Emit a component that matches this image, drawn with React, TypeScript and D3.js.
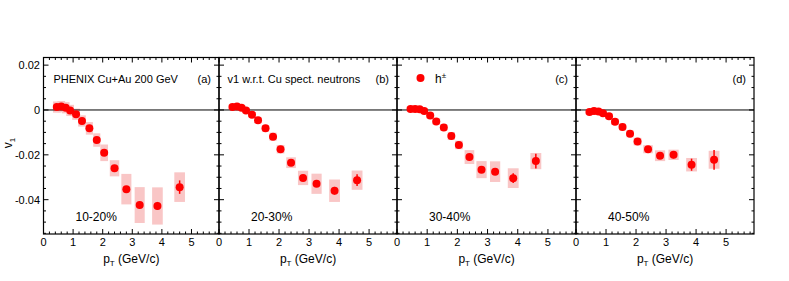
import * as d3 from "d3";

// pT bin centres (GeV/c), shared by all four centrality panels
const pt = [0.45, 0.6, 0.75, 0.9, 1.1, 1.3, 1.55, 1.8, 2.05, 2.4, 2.8, 3.25, 3.85, 4.6];
// half width of the systematic boxes
const boxHalf = [0.13, 0.13, 0.13, 0.13, 0.13, 0.13, 0.12, 0.12, 0.13, 0.16, 0.17, 0.17, 0.18, 0.18];

const v1_1020 = [0.0013, 0.0015, 0.001, -0.0002, -0.0019, -0.0049, -0.0082, -0.0134, -0.0191, -0.026, -0.0353, -0.0424, -0.0428, -0.0344];
const stat_1020 = [0.0003, 0.0003, 0.0003, 0.0003, 0.0003, 0.0004, 0.0004, 0.0005, 0.0006, 0.0008, 0.001, 0.0015, 0.0018, 0.003];
const sys_1020 = [0.0025, 0.0025, 0.0025, 0.0025, 0.0025, 0.0025, 0.0028, 0.003, 0.0037, 0.0036, 0.0068, 0.008, 0.0083, 0.0066];

const v1_2030 = [0.0013, 0.0015, 0.001, -0.0002, -0.0021, -0.0046, -0.0082, -0.0119, -0.0175, -0.0235, -0.0303, -0.0329, -0.036, -0.0313];
const stat_2030 = [0.0003, 0.0003, 0.0003, 0.0003, 0.0003, 0.0004, 0.0004, 0.0005, 0.0006, 0.0008, 0.001, 0.0012, 0.0017, 0.0026];
const sys_2030 = [0.0012, 0.0012, 0.0012, 0.0012, 0.0012, 0.0013, 0.0015, 0.0018, 0.0019, 0.0024, 0.0032, 0.0045, 0.005, 0.0043];

const v1_3040 = [0.0004, 0.0004, 0.0003, -0.0004, -0.0025, -0.0051, -0.0078, -0.0116, -0.0156, -0.021, -0.0266, -0.0275, -0.0304, -0.0228];
const stat_3040 = [0.0003, 0.0003, 0.0003, 0.0003, 0.0003, 0.0004, 0.0004, 0.0005, 0.0006, 0.0008, 0.001, 0.0013, 0.0022, 0.0033];
const sys_3040 = [0.0012, 0.0012, 0.0012, 0.0012, 0.0013, 0.0014, 0.0015, 0.0018, 0.0019, 0.0031, 0.0038, 0.0046, 0.0044, 0.0036];

const v1_4050 = [-0.0009, -0.0004, -0.0007, -0.0015, -0.0028, -0.0053, -0.0076, -0.0106, -0.0141, -0.0175, -0.0204, -0.02, -0.0244, -0.0222];
const stat_4050 = [0.0003, 0.0003, 0.0003, 0.0003, 0.0003, 0.0004, 0.0004, 0.0005, 0.0006, 0.0008, 0.001, 0.0016, 0.0027, 0.0044];
const sys_4050 = [0.0012, 0.0012, 0.0012, 0.0012, 0.0013, 0.0014, 0.0015, 0.0016, 0.0017, 0.0018, 0.0024, 0.0023, 0.003, 0.004];

const centralities = ["10-20%", "20-30%", "30-40%", "40-50%"];
const panelTags = ["(a)", "(b)", "(c)", "(d)"];
const xTickValues = [0, 1, 2, 3, 4, 5];
const yTickValues = [-0.04, -0.02, 0, 0.02];
const yTickLabels = ["-0.04", "-0.02", "0", "0.02"];

const panels = [
  { v: v1_1020, stat: stat_1020, sys: sys_1020 },
  { v: v1_2030, stat: stat_2030, sys: sys_2030 },
  { v: v1_3040, stat: stat_3040, sys: sys_3040 },
  { v: v1_4050, stat: stat_4050, sys: sys_4050 },
];

const edges = [43.5, 219, 397, 576, 754];
const top = 57.5;
const bottom = 234;
const font = "'Liberation Sans', Arial, Helvetica, sans-serif";
const RED = "#ff0000";
const PINK = "#f9c6c6";

const yScale = d3.scaleLinear().domain([-0.0553, 0.0234]).range([bottom, top]);
const xMinor = d3.range(0, 30).map((i) => i * 0.2);
const yMinor = d3.range(-11, 5).map((i) => i * 0.005);

const Panel = ({ idx }) => {
  const x0 = edges[idx];
  const x1 = edges[idx + 1];
  const xScale = d3.scaleLinear().domain([0, 5.93]).range([x0, x1]);
  const d = panels[idx];
  const isMajorX = (t) => Math.abs(t - Math.round(t)) < 1e-6;
  const isMajorY = (t) => Math.abs(t / 0.02 - Math.round(t / 0.02)) < 1e-6;

  return (
    <g>
      {/* systematic boxes */}
      {pt.map((p, i) => (
        <rect
          key={"s" + i}
          x={xScale(p - boxHalf[i])}
          y={yScale(d.v[i] + d.sys[i])}
          width={xScale(p + boxHalf[i]) - xScale(p - boxHalf[i])}
          height={yScale(d.v[i] - d.sys[i]) - yScale(d.v[i] + d.sys[i])}
          fill={PINK}
        />
      ))}
      {/* zero line */}
      <line x1={x0} x2={x1} y1={yScale(0)} y2={yScale(0)} stroke="#000" strokeWidth={1} />
      {/* stat errors */}
      {pt.map((p, i) => (
        <line
          key={"e" + i}
          x1={xScale(p)}
          x2={xScale(p)}
          y1={yScale(d.v[i] + d.stat[i])}
          y2={yScale(d.v[i] - d.stat[i])}
          stroke={RED}
          strokeWidth={1.5}
        />
      ))}
      {pt.map((p, i) => (
        <circle key={"m" + i} cx={xScale(p)} cy={yScale(d.v[i])} r={4} fill={RED} />
      ))}
      {/* x ticks bottom & top */}
      {xMinor
        .filter((t) => xScale(t) <= x1 + 0.1)
        .map((t, i) => {
          const len = isMajorX(t) ? 5 : 2.5;
          const px = xScale(t);
          return (
            <g key={"xt" + i}>
              <line x1={px} x2={px} y1={bottom} y2={bottom - len} stroke="#000" />
              <line x1={px} x2={px} y1={top} y2={top + len} stroke="#000" />
            </g>
          );
        })}
      {/* y ticks left & right */}
      {yMinor.map((t, i) => {
        const len = isMajorY(t) ? 5 : 2.5;
        const py = yScale(t);
        return (
          <g key={"yt" + i}>
            <line x1={x0} x2={x0 + len} y1={py} y2={py} stroke="#000" />
            <line x1={x1} x2={x1 - len} y1={py} y2={py} stroke="#000" />
          </g>
        );
      })}
      <rect x={x0} y={top} width={x1 - x0} height={bottom - top} fill="none" stroke="#000" strokeWidth={1.2} />
      {xTickValues.map((t) => (
        <text key={"xl" + t} x={xScale(t)} y={246} textAnchor="middle" fontSize={11}>
          {t}
        </text>
      ))}
      <text x={(x0 + x1) / 2} y={263} textAnchor="middle" fontSize={12}>
        p<tspan fontSize={8} dy={3}>T</tspan>
        <tspan dy={-3}> (GeV/c)</tspan>
      </text>
      <text x={x0 + 32} y={221} fontSize={12}>
        {centralities[idx]}
      </text>
      <text x={x1 - 8} y={83} textAnchor="end" fontSize={11}>
        {panelTags[idx]}
      </text>
    </g>
  );
};

export default function App() {
  return (
    <svg
      width={789}
      height={281}
      style={{ position: "absolute", left: 0, top: 0, background: "#fff" }}
      fontFamily={font}
    >
      {[0, 1, 2, 3].map((i) => (
        <Panel key={i} idx={i} />
      ))}
      {yTickValues.map((t, i) => (
        <text key={"yl" + i} x={40} y={yScale(t) + 4} textAnchor="end" fontSize={11}>
          {yTickLabels[i]}
        </text>
      ))}
      <text transform="translate(12,143) rotate(-90)" textAnchor="middle" fontSize={12}>
        v<tspan fontSize={8} dy={3}>1</tspan>
      </text>
      <text x={53.5} y={83} fontSize={11}>
        PHENIX Cu+Au 200 GeV
      </text>
      <text x={227.5} y={83} fontSize={11}>
        v1 w.r.t. Cu spect. neutrons
      </text>
      <circle cx={420.5} cy={78} r={4} fill={RED} />
      <text x={435} y={83} fontSize={12}>
        h<tspan fontSize={8} dy={-5}>±</tspan>
      </text>
    </svg>
  );
}
